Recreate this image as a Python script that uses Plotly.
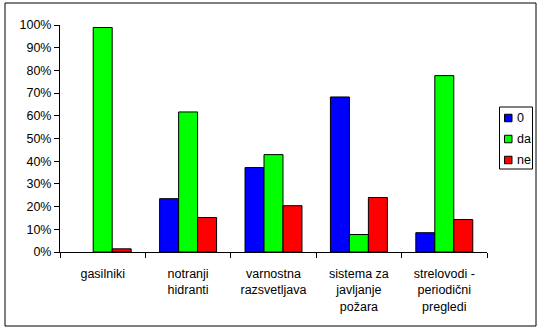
import plotly.graph_objects as go

# Categories and series values (percent)
categories = [
    "gasilniki",
    "notranji<br>hidranti",
    "varnostna<br>razsvetljava",
    "sistema za<br>javljanje<br>požara",
    "strelovodi -<br>periodični<br>pregledi",
]
series_names = ["0", "da", "ne"]
values_0 = [0.0, 23.5, 37.2, 68.3, 8.5]
values_da = [98.9, 61.7, 42.9, 7.7, 77.7]
values_ne = [1.4, 15.2, 20.4, 24.0, 14.3]
colors = ["#0000FF", "#00FF00", "#FF0000"]
y_ticks = list(range(0, 101, 10))

W, H = 540, 331
ML, MR, MT, MB = 60, 53, 25, 79
PW, PH = W - ML - MR, H - MT - MB


def px(x):
    return (x - ML) / PW


def py(y):
    return (H - MB - y) / PH


fig = go.Figure()
for name, vals, col in zip(series_names, [values_0, values_da, values_ne], colors):
    fig.add_trace(go.Bar(
        x=categories, y=vals, name=name,
        marker=dict(color=col,
                    line=dict(color="black", width=[1 if v > 0 else 0 for v in vals])),
    ))

font = dict(family="Liberation Sans, Arial, sans-serif", size=12.5, color="black")

shapes = [
    # outer chart frame
    dict(type="rect", xref="paper", yref="paper",
         x0=px(5), x1=px(536), y0=py(326), y1=py(3),
         line=dict(color="black", width=1), fillcolor="rgba(0,0,0,0)", layer="below"),
    # legend box
    dict(type="rect", xref="paper", yref="paper",
         x0=px(499.5), x1=px(532.5), y0=py(169), y1=py(107),
         line=dict(color="black", width=1), fillcolor="white"),
]
annotations = []
for i, (name, col) in enumerate(zip(series_names, colors)):
    cy = 118 + 21 * i
    shapes.append(dict(type="rect", xref="paper", yref="paper",
                       x0=px(504.5), x1=px(512), y0=py(cy + 3.75), y1=py(cy - 3.75),
                       line=dict(color="black", width=1), fillcolor=col))
    annotations.append(dict(xref="paper", yref="paper", x=px(514.5), y=py(cy),
                            text=name, showarrow=False, xanchor="left", yanchor="middle",
                            font=font))

fig.update_layout(
    width=W, height=H,
    margin=dict(l=ML, r=MR, t=MT, b=MB, autoexpand=False),
    paper_bgcolor="white", plot_bgcolor="white",
    font=font,
    barmode="group",
    bargap=0.333, bargroupgap=0,
    showlegend=False,
    xaxis=dict(
        showline=True, linecolor="black", linewidth=1,
        ticks="outside", ticklen=5, tickcolor="black",
        tickson="boundaries", showgrid=False,
        tickfont=font, ticklabelstandoff=10,
    ),
    yaxis=dict(
        range=[0, 100], tickvals=y_ticks,
        ticktext=[f"{v}%" for v in y_ticks],
        showline=True, linecolor="black", linewidth=1,
        ticks="outside", ticklen=5, tickcolor="black",
        showgrid=False, zeroline=False, tickfont=font,
    ),
    shapes=shapes,
    annotations=annotations,
)

fig.write_html("out.html")
